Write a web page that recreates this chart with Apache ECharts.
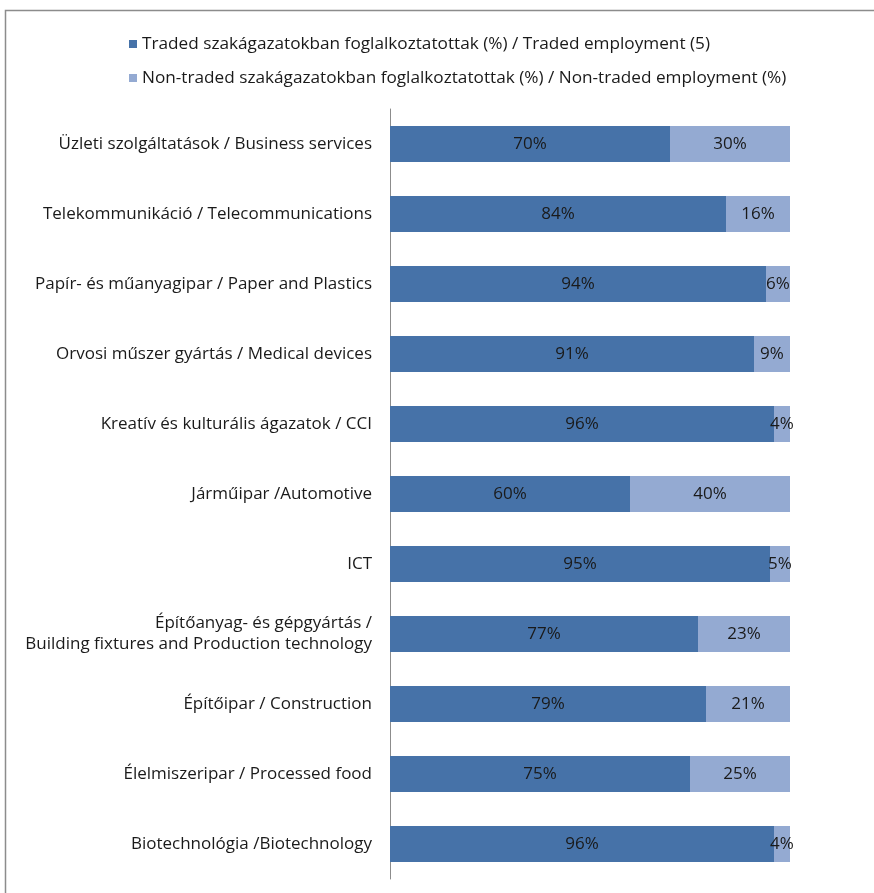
<!DOCTYPE html>
<html><head><meta charset="utf-8">
<script src="https://cdn.jsdelivr.net/npm/echarts@6/dist/echarts.min.js"></script>
<style>html,body{margin:0;padding:0;background:#fff}#c{width:874px;height:893px}</style>
</head><body><div id="c"></div>
<script>
const categories = [
  'Üzleti szolgáltatások / Business services',
  'Telekommunikáció / Telecommunications',
  'Papír- és műanyagipar / Paper and Plastics',
  'Orvosi műszer gyártás / Medical devices',
  'Kreatív és kulturális ágazatok / CCI',
  'Járműipar /Automotive',
  'ICT',
  'Építőanyag- és gépgyártás /\nBuilding fixtures and Production technology',
  'Építőipar / Construction',
  'Élelmiszeripar / Processed food',
  'Biotechnológia /Biotechnology'
];
const tradedName = 'Traded szakágazatokban foglalkoztatottak (%) / Traded employment (5)';
const nonTradedName = 'Non-traded szakágazatokban foglalkoztatottak (%) / Non-traded employment (%)';
const traded = [70, 84, 94, 91, 96, 60, 95, 77, 79, 75, 96];
const nonTraded = [30, 16, 6, 9, 4, 40, 5, 23, 21, 25, 4];

const FONT = '"Open Sans", sans-serif';
const chart = echarts.init(document.getElementById('c'), null, {renderer: 'canvas'});
const lbl = {show: true, position: 'inside', formatter: p => p.value + '%', color: '#1a1a1a', fontSize: 17, fontFamily: FONT};
chart.setOption({
  animation: false,
  textStyle: {fontFamily: FONT},
  graphic: [{type: 'rect', shape: {x: 5.5, y: 10.5, width: 900, height: 900}, style: {fill: 'none', stroke: '#8c8c8c', lineWidth: 1.5}, silent: true}],
  legend: {
    orient: 'vertical', left: 124, top: 27, itemWidth: 8, itemHeight: 8, itemGap: 10,
    icon: 'rect',
    textStyle: {fontSize: 17.2, lineHeight: 24, color: '#1a1a1a', fontFamily: FONT},
    data: [tradedName, nonTradedName]
  },
  grid: {left: 390, right: 84, top: 109, bottom: 14, containLabel: false},
  xAxis: {type: 'value', min: 0, max: 100, show: false},
  yAxis: {
    type: 'category', data: categories, inverse: true,
    axisLine: {show: true, lineStyle: {color: '#8c8c8c', width: 1}},
    axisTick: {show: false},
    axisLabel: {color: '#1a1a1a', fontSize: 17, fontFamily: FONT, margin: 18, lineHeight: 21, align: 'right', padding: [3, 0, 0, 0]}
  },
  series: [
    {name: tradedName, type: 'bar', stack: 'a', data: traded, barWidth: 36, itemStyle: {color: '#4672A8'}, label: lbl},
    {name: nonTradedName, type: 'bar', stack: 'a', data: nonTraded, barWidth: 36, itemStyle: {color: '#94AAD2'}, label: lbl}
  ]
});
</script></body></html>
